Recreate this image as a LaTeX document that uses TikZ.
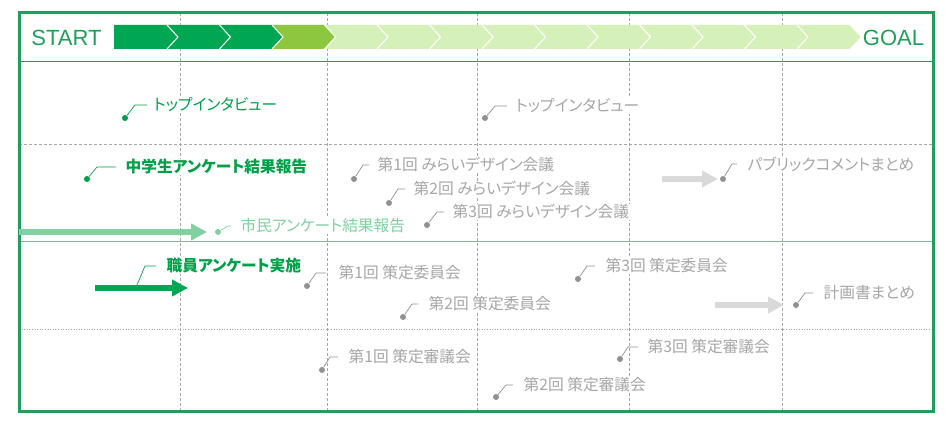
\documentclass[tikz,border=0pt]{standalone}
\usepackage{fontspec}
\setmainfont{Liberation Sans}
\newfontfamily\jpfont[CharacterWidth=AlternateProportional]{Noto Sans CJK JP}
\usetikzlibrary{positioning,arrows.meta}
\definecolor{framegreen}{RGB}{30,160,90}
\definecolor{darkgreen}{RGB}{0,166,81}
\definecolor{midgreen}{RGB}{141,198,63}
\definecolor{palegreen}{RGB}{214,240,185}
\definecolor{textgreen}{RGB}{0,160,72}
\definecolor{softgreen}{RGB}{128,208,160}
\definecolor{textgrey}{RGB}{166,166,166}
\definecolor{dotgrey}{RGB}{145,145,145}
\definecolor{arrowgrey}{RGB}{217,217,217}
\tikzset{
	label_style/.style = {anchor=west, fill=white, inner sep=0.5pt, text=textgrey, font=\jpfont\fontsize{15.7}{15.7}\selectfont},
	green_style/.style = {label_style, text=textgreen},
	bold_style/.style = {green_style, font=\jpfont\bfseries\fontsize{15.7}{15.7}\selectfont},
	dot_style/.style = {circle, fill=dotgrey, inner sep=0pt, minimum size=6pt},
	leader_style/.style = {draw=dotgrey, line width=0.7pt},
	arrow_style/.style = {line width=6pt, -{Triangle[length=16pt,width=16pt]}}
}

\begin{document}
\begin{tikzpicture}[
    x=1pt, y=1pt,
    grid_style/.style={
        draw=textgrey,
        line width=0.6pt,
        dash pattern=on 3pt off 2pt
        },
    chevron_style/.style={
        draw=white,
        line width=1pt
        },
    end_style/.style={
        text=framegreen,
        font=\fontsize{22}{22}\selectfont
        }]
    \useasboundingbox (0,0) rectangle (945,423);

    % grid
    \foreach \x in {180,327,477,629,782}
        \draw[grid_style] (\x,410) -- (\x,11);
    \draw[grid_style] (19,279) -- (933,279);
    \draw[textgrey, line width=0.6pt, dotted] (19,94) -- (933,94);
    \draw[softgreen!80!framegreen, line width=0.8pt] (19,181.5) -- (933,181.5);
    \draw[framegreen, line width=1pt] (19,361) -- (933,361);
    \draw[framegreen, line width=3pt] (19,410) rectangle (933,11);

    % schedule bar
    \fill[palegreen] (114,398) -- (849.5,398) -- (860.5,386) -- (849.5,374) -- (114,374) -- cycle;
    \fill[darkgreen] (114,398) -- (272,398) -- (283,386) -- (272,374) -- (114,374) -- cycle;
    \fill[midgreen] (272,398) -- (324.5,398) -- (335.5,386) -- (324.5,374) -- (272,374) -- (283,386) -- cycle;
    \foreach \k in {0,...,12}
        \draw[chevron_style] (167+52.5*\k,398) -- (178+52.5*\k,386) -- (167+52.5*\k,374);
    \node[end_style] (start) at (66.5,385) {START};
    \node[end_style] (goal) at (893.5,385) {GOAL};

    % arrows
    \coordinate (a1) at (19,191);
    \coordinate (b1) at (207,191);
    \coordinate (a2) at (95,135);
    \coordinate (b2) at (188,135);
    \coordinate (a3) at (662,244);
    \coordinate (b3) at (718,244);
    \coordinate (a4) at (715,118);
    \coordinate (b4) at (784,118);
    \draw[arrow_style, draw=softgreen, fill=softgreen] (a1) -- (b1);
    \draw[arrow_style, draw=darkgreen, fill=darkgreen] (a2) -- (b2);
    \draw[arrow_style, draw=arrowgrey, fill=arrowgrey] (a3) -- (b3);
    \draw[arrow_style, draw=arrowgrey, fill=arrowgrey] (a4) -- (b4);

    % milestones
    \node[dot_style, fill=textgreen] (d1) at (125,305) {};
    \node[dot_style, fill=textgreen] (d2) at (87,244) {};
    \node[dot_style] (d3) at (485,305) {};
    \node[dot_style] (d4) at (354,244) {};
    \node[dot_style] (d5) at (389,220) {};
    \node[dot_style] (d6) at (427,198) {};
    \node[dot_style, fill=softgreen] (d7) at (218,191) {};
    \node[dot_style] (d8) at (723,244) {};
    \coordinate (d9) at (137,138);
    \node[dot_style] (d10) at (307,137) {};
    \node[dot_style] (d11) at (403,106) {};
    \node[dot_style] (d12) at (578,144) {};
    \node[dot_style] (d13) at (796,118) {};
    \node[dot_style] (d14) at (322,53) {};
    \node[dot_style] (d15) at (496,26) {};
    \node[dot_style] (d16) at (620,64) {};

    \node[green_style] (t1) at ([shift={(28,13)}]d1) {トップインタビュー};
    \node[bold_style] (t2) at ([shift={(38,12)}]d2) {中学生アンケート結果報告};
    \node[label_style] (t3) at ([shift={(30,12)}]d3) {トップインタビュー};
    \node[label_style] (t4) at ([shift={(23,14)}]d4) {第1回 みらいデザイン会議};
    \node[label_style] (t5) at ([shift={(24,14)}]d5) {第2回 みらいデザイン会議};
    \node[label_style] (t6) at ([shift={(25,13)}]d6) {第3回 みらいデザイン会議};
    \node[label_style, text=softgreen] (t7) at ([shift={(22,6)}]d7) {市民アンケート結果報告};
    \node[label_style] (t8) at ([shift={(24,15)}]d8) {パブリックコメントまとめ};
    \node[bold_style] (t9) at ([shift={(29,19)}]d9) {職員アンケート実施};
    \node[label_style] (t10) at ([shift={(31,13)}]d10) {第1回 策定委員会};
    \node[label_style] (t11) at ([shift={(25,13)}]d11) {第2回 策定委員会};
    \node[label_style] (t12) at ([shift={(27,13)}]d12) {第3回 策定委員会};
    \node[label_style] (t13) at ([shift={(27,12)}]d13) {計画書まとめ};
    \node[label_style] (t14) at ([shift={(26,13)}]d14) {第1回 策定審議会};
    \node[label_style] (t15) at ([shift={(27,12)}]d15) {第2回 策定審議会};
    \node[label_style] (t16) at ([shift={(27,12)}]d16) {第3回 策定審議会};

    \draw[leader_style, draw=textgreen] (d1) -- +(10,13) -- ([xshift=-6pt]t1.west);
    \draw[leader_style, draw=textgreen] (d2) -- +(10,12) -- ([xshift=-9pt]t2.west);
    \draw[leader_style] (d3) -- +(10,12) -- ([xshift=-8pt]t3.west);
    \draw[leader_style] (d4) -- +(9,14) -- ([xshift=-8pt]t4.west);
    \draw[leader_style] (d5) -- +(9,14) -- ([xshift=-8pt]t5.west);
    \draw[leader_style] (d6) -- +(10,13) -- ([xshift=-8pt]t6.west);
    \draw[leader_style, draw=softgreen] (d7) -- +(10,6) -- ([xshift=-9pt]t7.west);
    \draw[leader_style] (d8) -- +(9,15) -- ([xshift=-10pt]t8.west);
    \draw[leader_style, draw=textgreen] (d9) -- +(8,19) -- ([xshift=-10pt]t9.west);
    \draw[leader_style] (d10) -- +(9,13) -- ([xshift=-12pt]t10.west);
    \draw[leader_style] (d11) -- +(9,13) -- ([xshift=-10pt]t11.west);
    \draw[leader_style] (d12) -- +(9,13) -- ([xshift=-10pt]t12.west);
    \draw[leader_style] (d13) -- +(9,12) -- ([xshift=-10pt]t13.west);
    \draw[leader_style] (d14) -- +(8,13) -- ([xshift=-10pt]t14.west);
    \draw[leader_style] (d15) -- +(10,12) -- ([xshift=-10pt]t15.west);
    \draw[leader_style] (d16) -- +(8,12) -- ([xshift=-9pt]t16.west);
\end{tikzpicture}
\end{document}
